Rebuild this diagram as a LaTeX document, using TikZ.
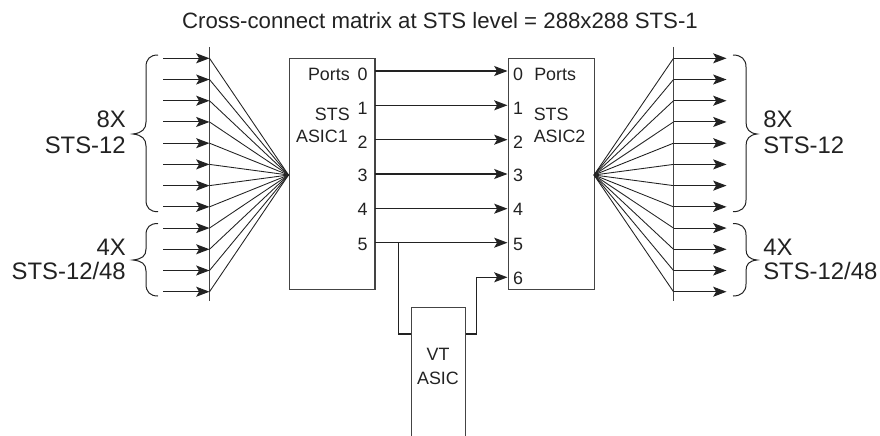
\documentclass[tikz,border=0pt]{standalone}
\usepackage{fontspec}
\setmainfont{Liberation Sans}
\usetikzlibrary{arrows.meta,calc}
\definecolor{ink}{HTML}{222222}
\definecolor{boxline}{HTML}{444444}
\tikzset{
  flow/.style={draw=ink,line width=0.8pt,-{Stealth[length=10pt,width=7.5pt,inset=2.2pt]}},
  fan/.style={draw=ink,line width=0.65pt},
  rail/.style={draw=boxline,line width=0.65pt},
  bracepath/.style={draw=ink,line width=0.75pt},
  asic/.style={draw=boxline,line width=0.85pt,rectangle,inner sep=0pt,anchor=north west},
  small/.style={inner sep=0pt,anchor=base,text=ink,font=\fontsize{13.4pt}{15pt}\selectfont},
  big/.style={inner sep=0pt,text=ink,font=\fontsize{17.9pt}{20pt}\selectfont},
}
\begin{document}
\begin{tikzpicture}[x=0.75pt,y=-0.75pt]
\useasboundingbox (0,0) rectangle (880,435);
\clip (0,0) rectangle (880,435);
\node[big,anchor=base,font=\fontsize{16.67pt}{20pt}\selectfont] (title) at (440,29) {Cross-connect matrix at STS level = 288x288 STS-1};
% boxes
\node[asic,minimum width=64.1pt,minimum height=173.25pt] (a1) at (289,58) {};
\node[asic,minimum width=64.5pt,minimum height=173.25pt] (a2) at (508,58) {};
\node[asic,minimum width=40.5pt,minimum height=110pt] (vt) at (411,307) {};
% rails and fan coordinates
\coordinate (lt) at (209,47); \coordinate (lb) at (209,301);
\coordinate (rt) at (673.5,47); \coordinate (rb) at (673.5,301);
\coordinate (lc) at (288.5,175); \coordinate (rc) at (594,175);
\draw[rail] (lt) -- (lb);
\draw[rail] (rt) -- (rb);
\foreach \i in {0,...,11}{
  \pgfmathsetmacro{\yy}{58.3+21.22*\i}
  \coordinate (ls\i) at (163,\yy);
  \coordinate (le\i) at (209.5,\yy);
  \coordinate (rs\i) at (673.5,\yy);
  \coordinate (re\i) at (726.5,\yy);
  \draw[flow] (ls\i) -- (le\i);
  \draw[flow] (rs\i) -- (re\i);
  \draw[fan] (le\i) -- (lc);
  \draw[fan] (rs\i) -- (rc);
}
% port links
\foreach \i/\yy in {0/71,1/105.3,2/139.7,3/174,4/208.7,5/242.7}{
  \coordinate (p\i) at (374.5,\yy);
  \coordinate (q\i) at (507.5,\yy);
  \draw[flow] (p\i) -- (q\i);
}
\coordinate (q6) at (507.5,277.3);
\coordinate (tap) at (398.7,242.7);
\draw[draw=ink,line width=0.8pt] (tap) |- (vt.west |- 0,334);
\draw[flow] (vt.east |- 0,334) -| (476.7,277.3) -- (q6);
% brace curves
\draw[bracepath] (158,55) .. controls (150,55) and (146,59) .. (146,67) -- (146,122)
  .. controls (146,129) and (142,133) .. (133,134)
  .. controls (142,135) and (146,139) .. (146,146) -- (146,200)
  .. controls (146,208) and (150,211.7) .. (158,211.7);
\draw[bracepath] (158,223.5) .. controls (150,223.5) and (146,227) .. (146,235) -- (146,249)
  .. controls (146,256) and (142,259) .. (133,260)
  .. controls (142,261) and (146,264) .. (146,271) -- (146,284)
  .. controls (146,292) and (150,296) .. (158,296);
\draw[bracepath] (733,55) .. controls (741,55) and (746,59) .. (746,67) -- (746,122)
  .. controls (746,129) and (749,133) .. (757,134)
  .. controls (749,135) and (746,139) .. (746,146) -- (746,200)
  .. controls (746,208) and (741,211.7) .. (733,211.7);
\draw[bracepath] (733,223.5) .. controls (741,223.5) and (746,227) .. (746,235) -- (746,249)
  .. controls (746,256) and (749,259) .. (757,260)
  .. controls (749,261) and (746,264) .. (746,271) -- (746,284)
  .. controls (746,292) and (741,296) .. (733,296);
% big labels
\node[big,anchor=base east] (l8) at (126,127) {8X};
\node[big,anchor=base east] (l12) at (126,153) {STS-12};
\node[big,anchor=base east] (l4) at (126,255) {4X};
\node[big,anchor=base east] (l48) at (126,279) {STS-12/48};
\node[big,anchor=base west] (r8) at (763,127) {8X};
\node[big,anchor=base west] (r12) at (763,153) {STS-12};
\node[big,anchor=base west] (r4) at (763,255) {4X};
\node[big,anchor=base west] (r48) at (763,279) {STS-12/48};
% box labels
\node[small,anchor=base east] (pl) at (350,80) {Ports};
\node[small,anchor=base east] (sl) at (350,120) {STS};
\node[small,anchor=base east] (al) at (348,142.7) {ASIC1};
\node[small,anchor=base west] (pr) at (534,80) {Ports};
\node[small,anchor=base west] (sr) at (533.5,120) {STS};
\node[small,anchor=base west] (ar) at (533.5,142.7) {ASIC2};
\node[small] (vt1) at (438,360.7) {VT};
\node[small] (vt2) at (438,384) {ASIC};
\foreach \i/\yy in {0/80,1/114,2/148,3/181.7,4/215.7,5/250}{
  \node[small] (n\i) at (362.5,\yy) {\i};
  \node[small] (m\i) at (518,\yy) {\i};
}
\node[small] (m6) at (518,284) {6};
\end{tikzpicture}
\end{document}
